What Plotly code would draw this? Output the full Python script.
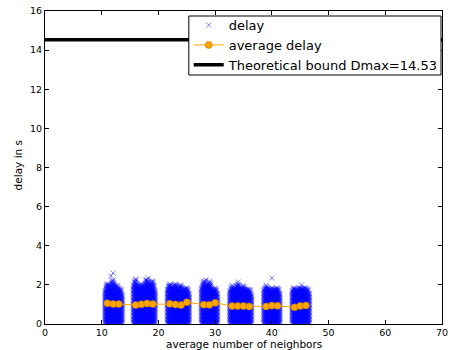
import plotly.graph_objects as go

# ---- data ----
avg_x = [11, 12, 13, 16, 17, 18, 19, 22, 23, 24, 25, 28, 29, 30, 33, 34, 35, 36, 39, 40, 41, 44, 45, 46]
avg_y = [1.06, 1.02, 1.02, 0.97, 1.01, 1.05, 1.02, 1.03, 1.00, 0.97, 1.11, 0.99, 0.98, 1.08,
         0.92, 0.92, 0.92, 0.90, 0.90, 0.94, 0.93, 0.85, 0.92, 0.95]

dmax = 14.53

# delay samples: per cluster column positions and the height reached at each
delay_levels = [0.02, 0.09, 0.16, 0.23, 0.30, 0.37, 0.44, 0.51, 0.58, 0.65, 0.72, 0.79, 0.86,
                0.93, 1.00, 1.07, 1.14, 1.21, 1.28, 1.35, 1.42, 1.49, 1.56, 1.63, 1.70, 1.77,
                1.84, 1.91, 1.98, 2.05, 2.12, 2.19, 2.26]

c1_x = [10.6, 10.8, 11.0, 11.2, 11.4, 11.6, 11.8, 12.0, 12.2, 12.4, 12.6, 12.8, 13.0, 13.2, 13.4, 13.6]
c1_top = [1.7, 2.0, 2.1, 2.1, 2.0, 1.9, 2.2, 2.3, 2.1, 2.0, 1.9, 2.0, 1.9, 1.8, 1.8, 1.5]
c2_x = [15.6, 15.8, 16.0, 16.2, 16.4, 16.6, 16.8, 17.0, 17.2, 17.4, 17.6, 17.8, 18.0, 18.2, 18.4,
        18.6, 18.8, 19.0, 19.2, 19.4]
c2_top = [2.0, 2.2, 2.3, 2.1, 2.0, 1.9, 2.0, 2.1, 2.0, 1.9, 2.1, 2.3, 2.3, 2.2, 2.0, 2.1, 2.2,
          2.2, 2.0, 1.7]
c3_x = [21.6, 21.8, 22.0, 22.2, 22.4, 22.6, 22.8, 23.0, 23.2, 23.4, 23.6, 23.8, 24.0, 24.2, 24.4,
        24.6, 24.8, 25.0, 25.2, 25.4]
c3_top = [1.8, 2.0, 2.1, 2.0, 1.9, 1.9, 2.0, 2.1, 2.0, 1.9, 1.9, 2.0, 2.0, 1.9, 1.8, 1.8, 1.9,
          1.9, 1.8, 1.6]
c4_x = [27.6, 27.8, 28.0, 28.2, 28.4, 28.6, 28.8, 29.0, 29.2, 29.4, 29.6, 29.8, 30.0, 30.2, 30.4]
c4_top = [1.9, 2.1, 2.2, 2.2, 2.0, 2.0, 2.1, 2.2, 2.1, 1.9, 1.8, 1.8, 1.9, 1.8, 1.6]
c5_x = [32.6, 32.8, 33.0, 33.2, 33.4, 33.6, 33.8, 34.0, 34.2, 34.4, 34.6, 34.8, 35.0, 35.2, 35.4,
        35.6, 35.8, 36.0, 36.2, 36.4]
c5_top = [1.7, 1.9, 2.0, 1.9, 1.9, 1.9, 2.0, 2.1, 2.0, 1.9, 1.9, 1.9, 2.0, 1.9, 1.8, 1.8, 1.8,
          1.8, 1.7, 1.5]
c6_x = [38.6, 38.8, 39.0, 39.2, 39.4, 39.6, 39.8, 40.0, 40.2, 40.4, 40.6, 40.8, 41.0, 41.2, 41.4]
c6_top = [1.8, 1.9, 2.0, 1.9, 1.9, 1.8, 1.8, 1.9, 1.8, 1.8, 1.8, 1.9, 1.9, 1.8, 1.6]
c7_x = [43.6, 43.8, 44.0, 44.2, 44.4, 44.6, 44.8, 45.0, 45.2, 45.4, 45.6, 45.8, 46.0, 46.2, 46.4, 46.6]
c7_top = [1.7, 1.9, 1.9, 1.8, 1.8, 1.8, 1.9, 1.9, 1.9, 1.8, 1.9, 1.9, 1.9, 1.8, 1.8, 1.6]
outlier_x = [12.0, 11.6, 18.2, 16.0, 34.0, 40.0, 28.4, 45.2]
outlier_y = [2.6, 2.45, 2.35, 2.3, 2.15, 2.35, 2.25, 2.0]

delay_x, delay_y = [], []
for xs, tops in [(c1_x, c1_top), (c2_x, c2_top), (c3_x, c3_top), (c4_x, c4_top),
                 (c5_x, c5_top), (c6_x, c6_top), (c7_x, c7_top)]:
    for xv, tv in zip(xs, tops):
        for lv in delay_levels:
            if lv <= tv:
                delay_x.append(xv)
                delay_y.append(lv)
delay_x += outlier_x
delay_y += outlier_y

x_ticks = [0, 10, 20, 30, 40, 50, 60, 70]
y_ticks = [0, 2, 4, 6, 8, 10, 12, 14, 16]

FONT = "DejaVu Sans"

fig = go.Figure()
fig.add_trace(go.Scatter(
    x=delay_x, y=delay_y, mode="markers", name="delay",
    marker=dict(symbol="x-thin", size=5, color="rgba(0,0,255,0.5)",
                line=dict(width=1, color="rgba(0,0,255,0.5)")),
))
fig.add_trace(go.Scatter(
    x=avg_x, y=avg_y, mode="lines+markers", name="average delay",
    line=dict(color="#FFA500", width=1),
    marker=dict(symbol="circle", size=7, color="#FFA500", line=dict(width=0.6, color="#B87700")),
))
fig.add_trace(go.Scatter(
    x=[0, 70], y=[dmax, dmax], mode="lines", name="Theoretical bound Dmax=14.53",
    line=dict(color="black", width=3.5),
))

axis_common = dict(
    showgrid=False, zeroline=False, showline=True, linecolor="black", linewidth=1,
    mirror="ticks", ticks="inside", ticklen=4, tickcolor="black",
    tickfont=dict(family=FONT, size=9.5, color="black"),
    ticklabeloverflow="allow",
)
fig.update_xaxes(range=[0, 70], tickvals=x_ticks, ticktext=[str(v) for v in x_ticks],
                 **axis_common)
fig.update_yaxes(range=[0, 16], tickvals=y_ticks, ticktext=[str(v) for v in y_ticks],
                 **axis_common)

# legend frame (white box over the plot) drawn in pixel-derived paper coords
fig.add_shape(type="rect", xref="paper", yref="paper", x0=0.3623, x1=0.9975, y0=0.7955, y1=0.984,
              line=dict(color="black", width=1), fillcolor="white", layer="above")

fig.add_annotation(text="average number of neighbors", xref="paper", yref="paper", x=0.5, y=-0.0639,
                   xanchor="center", yanchor="middle", showarrow=False, borderpad=0,
                   font=dict(family=FONT, size=10.5, color="black"))
fig.add_annotation(text="delay in s", xref="paper", yref="paper", x=-0.067, y=0.508, textangle=-90,
                   xanchor="center", yanchor="middle", showarrow=False, borderpad=0,
                   font=dict(family=FONT, size=10.5, color="black"))

fig.update_layout(
    width=451, height=350,
    margin=dict(l=45, r=3, t=11, b=26),
    paper_bgcolor="white", plot_bgcolor="white",
    showlegend=True,
    legend=dict(x=0.362, y=1.003, xanchor="left", yanchor="top",
                bgcolor="rgba(0,0,0,0)", borderwidth=0,
                font=dict(family=FONT, size=13, color="black"),
                tracegroupgap=0),
    font=dict(family=FONT),
)

fig.write_html("out.html")
